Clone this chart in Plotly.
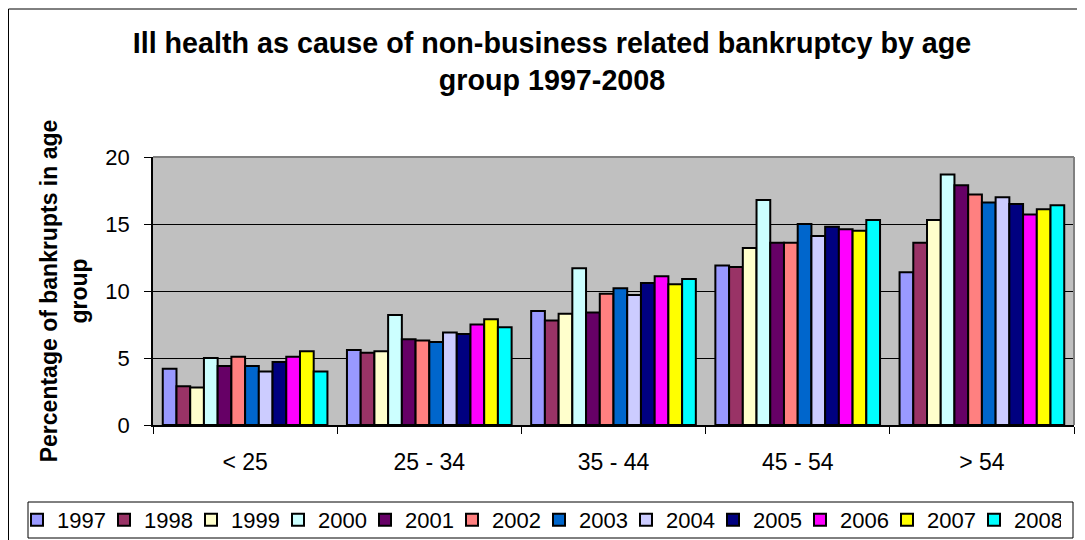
import plotly.graph_objects as go

categories = ["< 25", "25 - 34", "35 - 44", "45 - 54", "> 54"]
years = ["1997", "1998", "1999", "2000", "2001", "2002", "2003", "2004", "2005", "2006", "2007", "2008"]

v1997 = [4.2, 5.6, 8.5, 11.9, 11.4]
v1998 = [2.9, 5.4, 7.8, 11.8, 13.6]
v1999 = [2.8, 5.5, 8.3, 13.2, 15.3]
v2000 = [5.0, 8.2, 11.7, 16.8, 18.7]
v2001 = [4.4, 6.4, 8.4, 13.6, 17.9]
v2002 = [5.1, 6.3, 9.8, 13.6, 17.2]
v2003 = [4.4, 6.2, 10.2, 15.0, 16.6]
v2004 = [4.0, 6.9, 9.7, 14.1, 17.0]
v2005 = [4.7, 6.8, 10.6, 14.8, 16.5]
v2006 = [5.1, 7.5, 11.1, 14.6, 15.7]
v2007 = [5.5, 7.9, 10.5, 14.5, 16.1]
v2008 = [4.0, 7.3, 10.9, 15.3, 16.4]

series = [v1997, v1998, v1999, v2000, v2001, v2002, v2003, v2004, v2005, v2006, v2007, v2008]
colors = ["#9999FF", "#993366", "#FFFFCC", "#CCFFFF", "#660066", "#FF8080",
          "#0066CC", "#CCCCFF", "#000080", "#FF00FF", "#FFFF00", "#00FFFF"]

FONT = "Liberation Sans, Arial, sans-serif"
# page body has an 8px margin, so the figure is drawn 8px smaller
OFF = 8
W, H = 1085 - OFF, 540 - OFF
L, R, T, B = 145, 11, 149, 115
pw, ph = W - L - R, H - T - B


def px_x(x):
    return (x - L) / pw


def px_y(y):
    return (H - B - y) / ph


fig = go.Figure()
for name, vals, col in zip(years, series, colors):
    fig.add_trace(go.Bar(
        name=name, x=categories, y=vals,
        marker=dict(color=col, line=dict(color="black", width=2)),
    ))

fig.update_layout(
    width=W, height=H,
    margin=dict(l=L, r=R, t=T, b=B, autoexpand=False),
    paper_bgcolor="white",
    plot_bgcolor="#C0C0C0",
    barmode="group",
    bargap=0.106,
    bargroupgap=0,
    font=dict(family=FONT, size=22, color="black"),
    title=dict(
        text="Ill health as cause of non-business related bankruptcy by age<br>group 1997-2008",
        font=dict(family=FONT, size=28.7, weight="bold", color="black"),
        x=544 / W, xanchor="center", xref="container",
        y=1 - 45 / H, yanchor="top", yref="container",
    ),
    xaxis=dict(
        showgrid=False,
        showline=True, linecolor="black", linewidth=1.5,
        ticks="outside", ticklen=7, tickcolor="black", tickwidth=1,
        tickson="boundaries",
        ticklabelstandoff=16,
        tickfont=dict(family=FONT, size=23),
    ),
    yaxis=dict(
        range=[0, 20],
        tickvals=[0, 5, 10, 15, 20],
        showgrid=True, gridcolor="black", gridwidth=1,
        zeroline=False,
        showline=True, linecolor="black", linewidth=1.5,
        ticks="outside", ticklen=7, tickcolor="black", tickwidth=1,
        ticklabelstandoff=10,
        tickfont=dict(family=FONT, size=22),
        title=dict(
            text="Percentage of bankrupts in age<br>group",
            font=dict(family=FONT, size=23, weight="bold"),
            standoff=11,
        ),
    ),
    legend=dict(
        orientation="h",
        x=px_x(9), xanchor="left",
        y=px_y(491), yanchor="top",
        bgcolor="rgba(0,0,0,0)", borderwidth=0,
        font=dict(family=FONT, size=22),
        entrywidth=42, entrywidthmode="pixels",
        traceorder="normal",
    ),
    showlegend=True,
)

# legend frame
fig.add_shape(type="rect", xref="paper", yref="paper",
              x0=px_x(20), x1=px_x(1065), y0=px_y(530), y1=px_y(494),
              line=dict(color="black", width=1), fillcolor="white", layer="below")
# plot-area border (gray) on top and right
fig.add_shape(type="line", xref="paper", yref="paper", x0=0, x1=1, y0=1, y1=1,
              line=dict(color="#808080", width=2), layer="above")
fig.add_shape(type="line", xref="paper", yref="paper", x0=1, x1=1, y0=0, y1=1,
              line=dict(color="#808080", width=2), layer="above")
# outer chart border
fig.add_shape(type="rect", xref="paper", yref="paper",
              x0=px_x(0.5), x1=px_x(W + 20), y0=px_y(H + 20), y1=px_y(1),
              line=dict(color="black", width=1), layer="above")

fig.write_html("out.html")
